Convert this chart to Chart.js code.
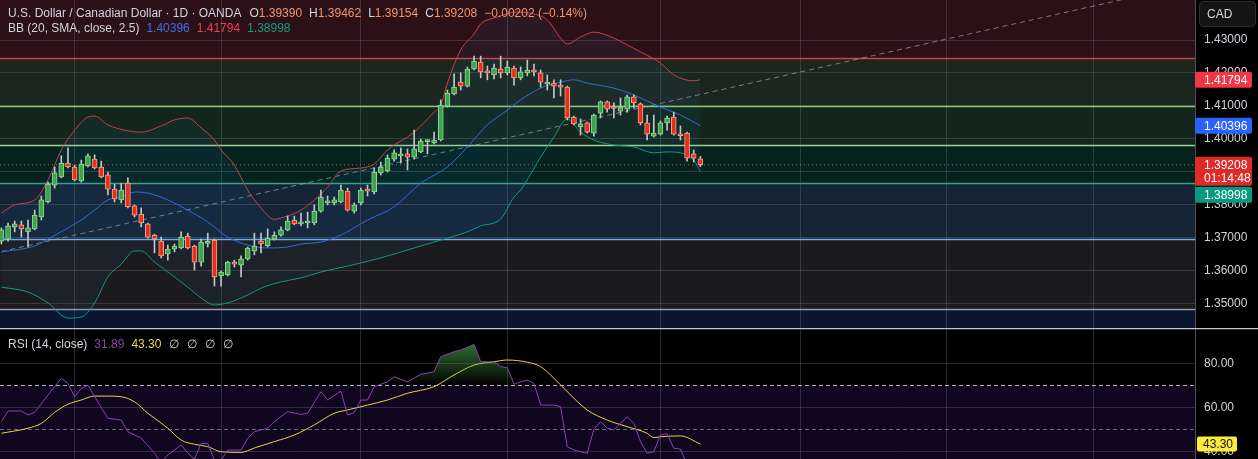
<!DOCTYPE html>
<html lang="en">

<head>
    <meta charset="UTF-8">
    <meta name="viewport" content="width=device-width, initial-scale=1.0">
    <title>USD/CAD 1D</title>
    <script src="https://cdn.jsdelivr.net/npm/chart.js"></script>
    <style>
        html, body { margin: 0; padding: 0; background: #000; }
        #wrap { position: relative; width: 1258px; height: 459px; overflow: hidden; background: #000; }
        canvas { position: absolute; left: 0; }
        #priceChart { top: 0; }
        #rsiChart { top: 328px; }
    </style>
</head>

<body>
    <div id="wrap">
        <canvas id="priceChart" width="1258" height="328"></canvas>
        <canvas id="rsiChart" width="1258" height="131"></canvas>
    </div>

    <script>
        // Daily candles, index 0 = first visible bar
        const opens = [1.3689, 1.3695, 1.3732, 1.3738, 1.3717, 1.3726, 1.3762, 1.3808, 1.3859, 1.3884,
            1.3926, 1.3914, 1.3872, 1.3917, 1.3938, 1.3914, 1.3890, 1.3847, 1.3814, 1.3865,
            1.3796, 1.3771, 1.3741, 1.3707, 1.3689, 1.3650, 1.3665, 1.3668, 1.3704, 1.3674,
            1.3625, 1.3682, 1.3692, 1.3583, 1.3586, 1.3625, 1.3616, 1.3635, 1.3659, 1.3689,
            1.3674, 1.3695, 1.3707, 1.3723, 1.3753, 1.3741, 1.3744, 1.3744, 1.3780, 1.3805,
            1.3805, 1.3808, 1.3841, 1.3780, 1.3805, 1.3847, 1.3838, 1.3896, 1.3902, 1.3938,
            1.3948, 1.3954, 1.3944, 1.3960, 1.3991, 1.3987, 1.3996, 1.4099, 1.4136, 1.4172,
            1.4160, 1.4212, 1.4233, 1.4206, 1.4194, 1.4212, 1.4200, 1.4215, 1.4185, 1.4200,
            1.4206, 1.4200, 1.4166, 1.4169, 1.4160, 1.4157, 1.4066, 1.4036, 1.4048, 1.4017,
            1.4078, 1.4112, 1.4095, 1.4084, 1.4090, 1.4127, 1.4106, 1.4048, 1.4008, 1.4014,
            1.4048, 1.4066, 1.4013, 1.4017, 1.3954, 1.39390];
        const highs = [1.3729, 1.3744, 1.3750, 1.3750, 1.3753, 1.3783, 1.3826, 1.3868, 1.3914, 1.3948,
            1.3972, 1.3920, 1.3935, 1.3954, 1.3951, 1.3932, 1.3899, 1.3862, 1.3865, 1.3881,
            1.3799, 1.3790, 1.3744, 1.3710, 1.3701, 1.3677, 1.3680, 1.3717, 1.3713, 1.3677,
            1.3695, 1.3713, 1.3695, 1.3598, 1.3628, 1.3631, 1.3644, 1.3671, 1.3713, 1.3713,
            1.3726, 1.3717, 1.3732, 1.3765, 1.3765, 1.3774, 1.3777, 1.3799, 1.3844, 1.3826,
            1.3823, 1.3859, 1.3850, 1.3805, 1.3850, 1.3859, 1.3911, 1.3929, 1.3951, 1.3966,
            1.3972, 1.3969, 1.4026, 1.3999, 1.3996, 1.4020, 1.4118, 1.4148, 1.4197, 1.4200,
            1.4218, 1.4251, 1.4251, 1.4221, 1.4227, 1.4251, 1.4236, 1.4221, 1.4218, 1.4239,
            1.4227, 1.4209, 1.4194, 1.4179, 1.4179, 1.4160, 1.4069, 1.4060, 1.4051, 1.4075,
            1.4115, 1.4115, 1.4109, 1.4124, 1.4133, 1.4133, 1.4109, 1.4072, 1.4072, 1.4054,
            1.4069, 1.4081, 1.4039, 1.4020, 1.3966, 1.39462];
        const lows = [1.3680, 1.3689, 1.3717, 1.3701, 1.3671, 1.3723, 1.3753, 1.3805, 1.3850, 1.3881,
            1.3911, 1.3872, 1.3868, 1.3914, 1.3908, 1.3881, 1.3829, 1.3808, 1.3805, 1.3790,
            1.3762, 1.3732, 1.3698, 1.3653, 1.3638, 1.3631, 1.3656, 1.3665, 1.3665, 1.3601,
            1.3613, 1.3671, 1.3552, 1.3552, 1.3583, 1.3610, 1.3580, 1.3631, 1.3647, 1.3653,
            1.3671, 1.3692, 1.3704, 1.3720, 1.3738, 1.3735, 1.3729, 1.3738, 1.3777, 1.3799,
            1.3799, 1.3805, 1.3780, 1.3774, 1.3799, 1.3826, 1.3832, 1.3890, 1.3899, 1.3932,
            1.3926, 1.3905, 1.3938, 1.3957, 1.3954, 1.3984, 1.3993, 1.4096, 1.4133, 1.4148,
            1.4157, 1.4209, 1.4185, 1.4179, 1.4182, 1.4185, 1.4194, 1.4163, 1.4179, 1.4191,
            1.4191, 1.4157, 1.4148, 1.4124, 1.4130, 1.4057, 1.4042, 1.4011, 1.4017, 1.4008,
            1.4063, 1.4081, 1.4063, 1.4072, 1.4081, 1.4093, 1.4042, 1.3996, 1.4005, 1.4011,
            1.4026, 1.4011, 1.3996, 1.3932, 1.3929, 1.39154];
        const closes = [1.3723, 1.3735, 1.3741, 1.3726, 1.3729, 1.3768, 1.3814, 1.3862, 1.3896, 1.3926,
            1.3914, 1.3875, 1.3923, 1.3948, 1.3911, 1.3884, 1.3847, 1.3817, 1.3844, 1.3793,
            1.3768, 1.3744, 1.3701, 1.3695, 1.3644, 1.3665, 1.3674, 1.3701, 1.3668, 1.3625,
            1.3686, 1.3686, 1.3580, 1.3595, 1.3625, 1.3619, 1.3635, 1.3668, 1.3674, 1.3680,
            1.3698, 1.3707, 1.3723, 1.3750, 1.3741, 1.3747, 1.3747, 1.3780, 1.3823, 1.3811,
            1.3814, 1.3844, 1.3783, 1.3799, 1.3844, 1.3841, 1.3899, 1.3914, 1.3941, 1.3957,
            1.3954, 1.3944, 1.3969, 1.3993, 1.3995, 1.3996, 1.4102, 1.4139, 1.4157, 1.4160,
            1.4212, 1.4236, 1.4203, 1.4200, 1.4215, 1.4200, 1.4218, 1.4185, 1.4203, 1.4209,
            1.4203, 1.4172, 1.4169, 1.4160, 1.4157, 1.4063, 1.4045, 1.4045, 1.4020, 1.4072,
            1.4112, 1.4090, 1.4092, 1.4096, 1.4127, 1.4109, 1.4048, 1.4014, 1.4017, 1.4048,
            1.4063, 1.4014, 1.4009, 1.3941, 1.39410, 1.39208];

        // Bollinger Bands (20, SMA, close, 2.5), read at these bar indices
        const upperIdx = [0, 2, 5, 7, 9, 11, 13, 14, 16, 19, 21, 24, 26, 28, 30, 32, 33, 35, 37, 39,
            41, 42, 45, 47, 49, 51, 54, 56, 58, 62, 65, 66, 67, 69, 71, 72, 74, 76, 77, 80,
            82, 84, 85, 87, 89, 92, 94, 96, 99, 101, 104, 105];
        const upperVal = [1.3774, 1.3799, 1.3814, 1.3875, 1.3966, 1.4026, 1.4066, 1.4069, 1.4042, 1.4024,
            1.4020, 1.4039, 1.4057, 1.4063, 1.4033, 1.3996, 1.3966, 1.3920, 1.3844, 1.3790,
            1.3755, 1.3759, 1.3783, 1.3814, 1.3853, 1.3902, 1.3911, 1.3923, 1.3966, 1.4020,
            1.4081, 1.4102, 1.4169, 1.4270, 1.4318, 1.4349, 1.4367, 1.4379, 1.4385, 1.4379,
            1.4361, 1.4306, 1.4288, 1.4309, 1.4324, 1.4306, 1.4285, 1.4264, 1.4230, 1.4194,
            1.4176, 1.41794];
        const basisIdx = [0, 5, 7, 10, 12, 14, 16, 18, 20, 22, 25, 28, 31, 34, 37, 40, 43, 45, 48, 51,
            55, 59, 63, 67, 70, 73, 76, 78, 81, 84, 86, 88, 92, 95, 99, 102, 105];
        const basisVal = [1.3656, 1.3674, 1.3695, 1.3729, 1.3753, 1.3783, 1.3814, 1.3823, 1.3838, 1.3835,
            1.3814, 1.3783, 1.3747, 1.3701, 1.3677, 1.3668, 1.3671, 1.3680, 1.3686, 1.3707,
            1.3753, 1.3793, 1.3865, 1.3914, 1.3975, 1.4042, 1.4087, 1.4118, 1.4154, 1.4172,
            1.4179, 1.4169, 1.4154, 1.4133, 1.4096, 1.4072, 1.40396];
        const lowerIdx = [0, 4, 7, 10, 12, 14, 16, 18, 20, 21, 23, 26, 28, 30, 32, 34, 37, 39, 42, 45,
            48, 52, 57, 62, 66, 70, 72, 75, 77, 78, 81, 83, 85, 87, 89, 92, 95, 98, 100, 102,
            104, 105];
        const lowerVal = [1.3549, 1.3534, 1.3501, 1.3455, 1.3458, 1.3501, 1.3580, 1.3619, 1.3659, 1.3659,
            1.3625, 1.3580, 1.3549, 1.3516, 1.3495, 1.3501, 1.3525, 1.3546, 1.3565, 1.3577,
            1.3595, 1.3613, 1.3638, 1.3668, 1.3692, 1.3717, 1.3735, 1.3756, 1.3823, 1.3844,
            1.3944, 1.4005, 1.4060, 1.4020, 1.3996, 1.3981, 1.3975, 1.3957, 1.3960, 1.3957,
            1.3935, 1.38998];

        // RSI (14) and its moving average
        const rsiIdx = [0, 1, 3, 4, 5, 7, 9, 10, 11, 12, 13, 14, 16, 18, 19, 21, 23, 24, 25, 27,
            28, 29, 30, 31, 32, 33, 34, 36, 37, 38, 40, 41, 43, 45, 46, 48, 49, 51, 52, 53,
            54, 55, 56, 58, 59, 61, 63, 65, 66, 68, 69, 71, 72, 74, 75, 76, 77, 78, 79, 80,
            81, 83, 84, 85, 86, 87, 88, 89, 90, 91, 92, 94, 95, 96, 97, 98, 99, 100, 101, 102,
            103, 104, 105];
        const rsiVal = [53.5, 58.3, 58.3, 56.5, 57.7, 65.6, 73.2, 70.9, 64.8, 68.6, 70.1, 64.8, 55, 54.2, 48.9, 46, 39.1, 35, 38.3, 42.9,
            39.2, 36.5, 43.6, 43.6, 36, 36, 40.6, 40.6, 45.9, 48.9, 50.5, 53.5, 58, 56.8, 57.3, 67.1, 63.3, 67.4, 56.5, 57.7,
            63.3, 63.3, 69.4, 71.6, 73.9, 71.6, 75, 76.2, 83, 85.3, 86, 88.6, 80.7, 80.7, 78.5, 78, 70.5, 71.6, 72.4, 70.9,
            61, 61, 60.3, 42.1, 40.6, 39.8, 39.1, 50, 53.5, 50.5, 49.7, 55.7, 52.7, 44.4, 39.1, 39.8, 47.4, 48, 41.4, 41,
            34, 33, 31.89];
        const maIdx = [0, 4, 6, 8, 10, 12, 14, 16, 18, 20, 22, 25, 27, 29, 31, 33, 36, 38, 41, 44,
            47, 50, 52, 55, 58, 61, 65, 68, 71, 74, 76, 79, 81, 83, 85, 88, 91, 94, 97, 98,
            99, 102, 105];
        const maVal = [48.2, 50.5, 52.7, 57.7, 61.4, 63.3, 65.1, 65.1, 64.8, 62.5, 57.3, 50.5, 45.1, 43.2, 42.1, 39.8, 39.5, 41.5, 44.4, 47.4,
            52, 57.3, 58.8, 61, 63.3, 66.4, 69.4, 74.7, 79.2, 80.7, 81.5, 80.5, 78.5, 73.2, 67.1, 58.8, 54.2, 51.2, 48.2, 46.2,
            46.6, 47, 43.3];

        // drawn trend line (two anchors) and horizontal levels
        const trendIdx = [0, 175];
        const trendVal = [1.3657, 1.4453];
        const levels = [1.4244, 1.4100, 1.3981, 1.3865, 1.3696, 1.3483];

        // axes
        const gridIdx = [11, 33, 54, 76, 99, 120, 142, 164];
        const priceTicks = [1.35, 1.36, 1.37, 1.38, 1.39, 1.40, 1.41, 1.42, 1.43];
        const rsiTicks = [40, 60, 80];
        const xMin = -0.21, xMax = 179.3;
        const yMin = 1.34248, yMax = 1.44216;
        const rsiMin = 36.5, rsiMax = 96.05;

        // styles
        const TXT = '#d1d4dc';
        const GRID = 'rgba(120,123,134,0.32)';
        const levelColors = ['#d23c48', '#86c77c', '#9fd49a', '#2aa88e', '#74aee8', '#9a9ca6'];
        const zoneColors = ['#2c1017', '#1b261e', '#13261b', '#05221f', '#152434', '#1b1b1e', '#0a1531'];
        const GREEN = '#3fa34d', GREEN_EDGE = '#8fdc8f';
        const RED = '#e0321f', RED_EDGE = '#ff9f85';

        Chart.defaults.font.family = "'Liberation Sans', Arial, sans-serif";
        Chart.defaults.font.size = 12;

        const last = closes.length - 1;
        const bars = closes.map((_, i) => i);
        const pts = (xs, ys) => xs.map((x, k) => ({ x: x, y: ys[k] }));

        function roundRect(ctx, x, y, w, h, r) {
            ctx.beginPath();
            ctx.moveTo(x + r, y);
            ctx.lineTo(x + w - r, y);
            ctx.quadraticCurveTo(x + w, y, x + w, y + r);
            ctx.lineTo(x + w, y + h - r);
            ctx.quadraticCurveTo(x + w, y + h, x + w - r, y + h);
            ctx.lineTo(x + r, y + h);
            ctx.quadraticCurveTo(x, y + h, x, y + h - r);
            ctx.lineTo(x, y + r);
            ctx.quadraticCurveTo(x, y, x + r, y);
            ctx.closePath();
        }

        // axis tag box (price label on the right scale)
        function tag(ctx, x, top, w, lines, bg, fg) {
            const h = lines.length === 1 ? 16 : 29;
            ctx.fillStyle = bg;
            roundRect(ctx, x, top, w, h, 2);
            ctx.fill();
            ctx.fillStyle = fg;
            ctx.textAlign = 'left';
            ctx.textBaseline = 'middle';
            lines.forEach((t, k) => ctx.fillText(t, 1204, top + 8.5 + k * 13.5));
            return top + h;
        }

        // text pieces drawn one after another
        function segs(ctx, x, y, list) {
            ctx.textAlign = 'left';
            ctx.textBaseline = 'alphabetic';
            list.forEach(([t, c, gap]) => {
                ctx.fillStyle = c;
                ctx.fillText(t, x, y);
                x += ctx.measureText(t).width + (gap || 0);
            });
        }

        // no label padding: the plot area must fill the pane edge to edge
        function flatY(s) {
            s.width = 63;
            s.paddingTop = 0;
            s.paddingBottom = 0;
        }

        const sharedX = {
            type: 'linear', min: xMin, max: xMax, offset: false,
            afterBuildTicks: (s) => { s.ticks = gridIdx.map(v => ({ value: v })); },
            afterFit: (s) => { s.height = 0; s.paddingLeft = 0; s.paddingRight = 0; },
            ticks: { display: false },
            grid: { color: GRID, drawTicks: false, offset: false },
            border: { display: false }
        };

        // ---------- price pane ----------
        const pricePane = {
            id: 'pricePane',
            beforeDraw(chart) {
                const { ctx, chartArea: a, scales: { y } } = chart;
                ctx.save();
                let top = a.top;
                levels.forEach((v, k) => {
                    const py = y.getPixelForValue(v);
                    ctx.fillStyle = zoneColors[k];
                    ctx.fillRect(a.left, top, a.width, py - top);
                    top = py;
                });
                ctx.fillStyle = zoneColors[levels.length];
                ctx.fillRect(a.left, top, a.width, a.bottom - top);
                ctx.restore();
            },
            beforeDatasetsDraw(chart) {
                const { ctx, chartArea: a, scales: { y } } = chart;
                ctx.save();
                ctx.lineWidth = 1.3;
                levels.forEach((v, k) => {
                    const py = Math.round(y.getPixelForValue(v)) + 0.5;
                    ctx.strokeStyle = levelColors[k];
                    ctx.beginPath();
                    ctx.moveTo(a.left, py);
                    ctx.lineTo(a.right, py);
                    ctx.stroke();
                });
                ctx.restore();
            },
            afterDraw(chart) {
                const { ctx, scales: { y } } = chart;
                ctx.save();
                ctx.font = "12px 'Liberation Sans', Arial, sans-serif";

                // legend
                const chg = closes[last] - closes[last - 1];
                const pct = chg / closes[last - 1] * 100;
                const VAL = '#f0956c';
                segs(ctx, 8, 17, [
                    ['U.S. Dollar / Canadian Dollar \u00b7 1D \u00b7 OANDA', TXT, 8],
                    ['O', TXT], [opens[last].toFixed(5), VAL, 7],
                    ['H', TXT], [highs[last].toFixed(5), VAL, 7],
                    ['L', TXT], [lows[last].toFixed(5), VAL, 7],
                    ['C', TXT], [closes[last].toFixed(5), VAL, 7],
                    [(chg < 0 ? '\u2212' : '+') + Math.abs(chg).toFixed(5) + ' (' + (pct < 0 ? '\u2212' : '+') + Math.abs(pct).toFixed(2) + '%)', VAL]
                ]);
                segs(ctx, 8, 32, [
                    ['BB (20, SMA, close, 2.5)', TXT, 7],
                    [basisVal[basisVal.length - 1].toFixed(5), '#3d6fe6', 7],
                    [upperVal[upperVal.length - 1].toFixed(5), '#e8404f', 7],
                    [lowerVal[lowerVal.length - 1].toFixed(5), '#1a9e82']
                ]);

                // currency box
                ctx.fillStyle = '#141414';
                ctx.strokeStyle = '#2e2e2e';
                ctx.lineWidth = 1;
                roundRect(ctx, 1199.5, 1.5, 56, 25, 4);
                ctx.fill();
                ctx.stroke();
                ctx.fillStyle = TXT;
                ctx.textBaseline = 'middle';
                ctx.fillText('CAD', 1207, 15);

                // axis tags
                const w = 57, x = 1195;
                const up = upperVal[upperVal.length - 1];
                const mid = basisVal[basisVal.length - 1];
                const lo = lowerVal[lowerVal.length - 1];
                tag(ctx, x, y.getPixelForValue(up) - 8, w, [up.toFixed(5)], '#f23645', '#fff');
                tag(ctx, x, y.getPixelForValue(mid) - 8, w, [mid.toFixed(5)], '#2962ff', '#fff');
                const bottom = tag(ctx, x, y.getPixelForValue(closes[last]) - 8, w, [closes[last].toFixed(5), '01:14:48'], '#df2a2a', '#fff');
                tag(ctx, x, Math.max(y.getPixelForValue(lo) - 8, bottom + 1), w, [lo.toFixed(5)], '#089981', '#fff');
                ctx.restore();
            }
        };

        new Chart(document.getElementById('priceChart'), {
            type: 'bar',
            data: {
                datasets: [
                    {
                        type: 'line', label: 'BB upper', data: pts(upperIdx, upperVal),
                        borderColor: '#c8404c', borderWidth: 1, pointRadius: 0,
                        cubicInterpolationMode: 'monotone',
                        fill: { target: '+2' }, backgroundColor: 'rgba(33,150,243,0.06)', order: 5
                    },
                    {
                        type: 'line', label: 'BB basis', data: pts(basisIdx, basisVal),
                        borderColor: '#3069e0', borderWidth: 1, pointRadius: 0,
                        cubicInterpolationMode: 'monotone', fill: false, order: 5
                    },
                    {
                        type: 'line', label: 'BB lower', data: pts(lowerIdx, lowerVal),
                        borderColor: '#17977c', borderWidth: 1, pointRadius: 0,
                        cubicInterpolationMode: 'monotone', fill: false, order: 5
                    },
                    {
                        type: 'line', label: 'trend', data: pts(trendIdx, trendVal),
                        borderColor: 'rgba(170,173,182,0.65)', borderWidth: 1, borderDash: [5, 4],
                        pointRadius: 0, fill: false, order: 6
                    },
                    {
                        type: 'line', label: 'last', data: [{ x: xMin, y: closes[last] }, { x: xMax, y: closes[last] }],
                        borderColor: '#d9544a', borderWidth: 1, borderDash: [1, 3],
                        pointRadius: 0, fill: false, order: 6
                    },
                    {
                        label: 'wicks', data: bars.map(i => ({ x: i, y: [lows[i], highs[i]] })),
                        backgroundColor: '#c4c4c4', barThickness: 1, grouped: false, order: 2
                    },
                    {
                        label: 'bodies', data: bars.map(i => ({ x: i, y: [opens[i], closes[i]] })),
                        backgroundColor: bars.map(i => closes[i] >= opens[i] ? GREEN : RED),
                        borderColor: bars.map(i => closes[i] >= opens[i] ? GREEN_EDGE : RED_EDGE),
                        borderWidth: 1, borderSkipped: false, barThickness: 5, minBarLength: 2,
                        grouped: false, order: 1
                    }
                ]
            },
            options: {
                responsive: false,
                animation: false,
                layout: { padding: 0 },
                plugins: { legend: { display: false }, tooltip: { enabled: false } },
                scales: {
                    x: sharedX,
                    y: {
                        position: 'right', min: yMin, max: yMax,
                        afterBuildTicks: (s) => { s.ticks = priceTicks.map(v => ({ value: v })); },
                        afterFit: flatY,
                        ticks: { color: TXT, padding: 9, callback: (v) => Number(v).toFixed(5) },
                        grid: { color: GRID, drawTicks: false },
                        border: { display: true, color: '#4c4f59' }
                    }
                }
            },
            plugins: [pricePane]
        });

        // ---------- RSI pane ----------
        const rsiPane = {
            id: 'rsiPane',
            beforeDraw(chart) {
                const { ctx, chartArea: a, scales: { y } } = chart;
                ctx.save();
                ctx.fillStyle = '#000';
                ctx.fillRect(a.left, a.top, a.width, a.height);
                const y70 = y.getPixelForValue(70);
                ctx.fillStyle = '#11061f';
                ctx.fillRect(a.left, y70, a.width, a.bottom - y70);
                ctx.restore();
            },
            beforeDatasetsDraw(chart) {
                const { ctx, chartArea: a, scales: { y } } = chart;
                ctx.save();
                ctx.lineWidth = 1;
                ctx.setLineDash([4, 3]);
                [[70, 'rgba(210,212,220,0.85)'], [50, 'rgba(130,133,145,0.8)']].forEach(([v, c]) => {
                    const py = Math.round(y.getPixelForValue(v)) + 0.5;
                    ctx.strokeStyle = c;
                    ctx.beginPath();
                    ctx.moveTo(a.left, py);
                    ctx.lineTo(a.right, py);
                    ctx.stroke();
                });
                ctx.restore();
            },
            afterDraw(chart) {
                const { ctx, scales: { y } } = chart;
                ctx.save();
                // pane separator
                ctx.strokeStyle = 'rgba(215,217,224,0.9)';
                ctx.lineWidth = 1.5;
                ctx.beginPath();
                ctx.moveTo(0, 0.5);
                ctx.lineTo(chart.width, 0.5);
                ctx.stroke();

                ctx.font = "12px 'Liberation Sans', Arial, sans-serif";
                segs(ctx, 8, 20, [
                    ['RSI (14, close)', TXT, 7],
                    [rsiVal[rsiVal.length - 1].toFixed(2), '#8a3fae', 7],
                    [maVal[maVal.length - 1].toFixed(2), '#e8d34a', 8],
                    ['\u2205', TXT, 8], ['\u2205', TXT, 8], ['\u2205', TXT, 8], ['\u2205', TXT]
                ]);

                const ma = maVal[maVal.length - 1];
                const py = y.getPixelForValue(ma);
                ctx.fillStyle = '#ffeb3b';
                roundRect(ctx, 1197, py - 7.5, 40, 15, 2);
                ctx.fill();
                ctx.fillStyle = '#111';
                ctx.textBaseline = 'middle';
                ctx.textAlign = 'left';
                ctx.fillText(ma.toFixed(2), 1203, py + 0.5);
                ctx.restore();
            }
        };

        new Chart(document.getElementById('rsiChart'), {
            type: 'line',
            data: {
                datasets: [
                    {
                        label: 'RSI', data: pts(rsiIdx, rsiVal),
                        borderColor: '#8f3fb3', borderWidth: 1, pointRadius: 0, tension: 0,
                        fill: { target: { value: 70 }, below: 'rgba(0,0,0,0)' },
                        backgroundColor: (c) => {
                            const chart = c.chart;
                            const s = chart.scales && chart.scales.y;
                            if (!chart.chartArea || !s) return 'rgba(0,0,0,0)';
                            const g = chart.ctx.createLinearGradient(0, s.getPixelForValue(100), 0, s.getPixelForValue(70));
                            g.addColorStop(0, 'rgba(76,175,80,1)');
                            g.addColorStop(1, 'rgba(76,175,80,0)');
                            return g;
                        }
                    },
                    {
                        label: 'RSI MA', data: pts(maIdx, maVal),
                        borderColor: '#e6d24a', borderWidth: 1, pointRadius: 0,
                        cubicInterpolationMode: 'monotone', fill: false
                    }
                ]
            },
            options: {
                responsive: false,
                animation: false,
                layout: { padding: 0 },
                plugins: { legend: { display: false }, tooltip: { enabled: false } },
                scales: {
                    x: sharedX,
                    y: {
                        position: 'right', min: rsiMin, max: rsiMax,
                        afterBuildTicks: (s) => { s.ticks = rsiTicks.map(v => ({ value: v })); },
                        afterFit: flatY,
                        ticks: { color: TXT, padding: 9, callback: (v) => Number(v).toFixed(2) },
                        grid: { color: GRID, drawTicks: false },
                        border: { display: true, color: '#4c4f59' }
                    }
                }
            },
            plugins: [rsiPane]
        });
    </script>
</body>

</html>
